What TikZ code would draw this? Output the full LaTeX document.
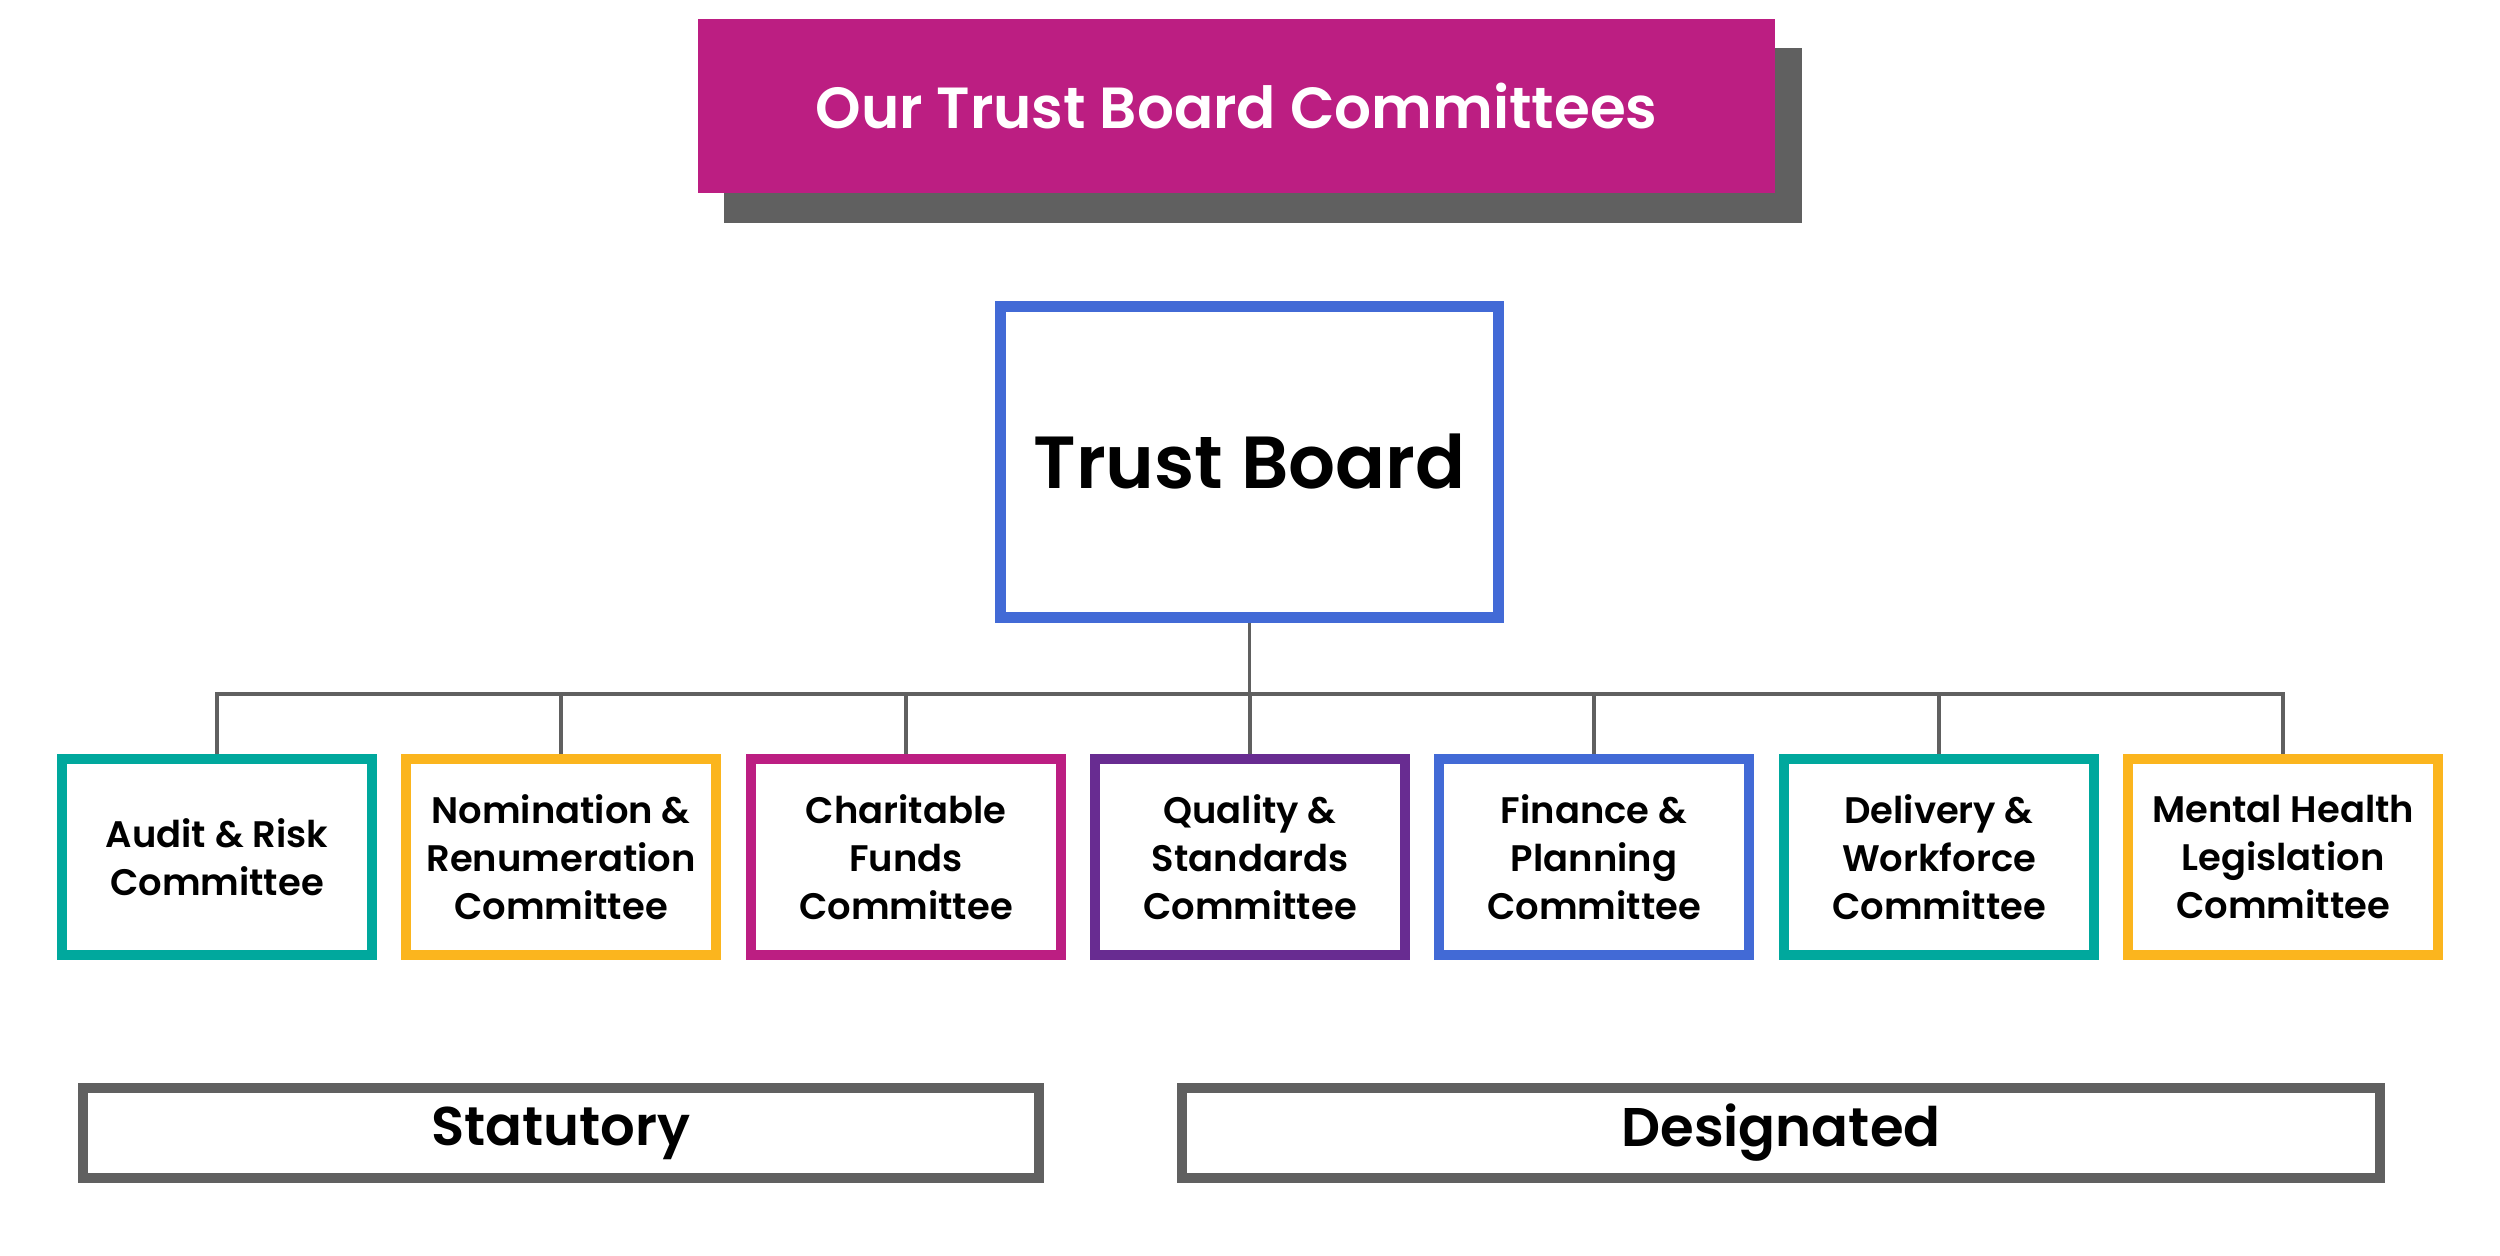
\documentclass[tikz,border=0pt]{standalone}
\usepackage{fontspec}
\setmainfont{Poppins}[BoldFont={Poppins SemiBold}]
\usepackage{tikz}
\usetikzlibrary{positioning}
\definecolor{trustmagenta}{RGB}{188,30,130}
\definecolor{trustblue}{RGB}{66,106,214}
\definecolor{trustteal}{RGB}{0,168,157}
\definecolor{trustamber}{RGB}{251,181,30}
\definecolor{trustpurple}{RGB}{104,44,145}
\definecolor{lineGray}{RGB}{96,96,96}

\tikzset{
  committee/.style={draw=#1, line width=2.85pt, fill=white, minimum width=3.10cm, minimum height=1.96cm,
    align=center, inner sep=0pt, font=\bfseries\fontsize{10.5}{13.7}\selectfont},
  grouplabel/.style={draw=lineGray, line width=2.85pt, fill=white, minimum height=0.90cm, inner sep=0pt,
    font=\bfseries\fontsize{15.5}{18}\selectfont},
  link/.style={draw=lineGray, line width=1pt}
}

\begin{document}
\begin{tikzpicture}
            \useasboundingbox (0,0) rectangle (25,12.55);
            % title banner with its shadow
            \node[fill=lineGray, minimum width=10.78cm, minimum height=1.75cm] (shadow) at (12.63,11.195) {};
            \node[fill=trustmagenta, minimum width=10.77cm, minimum height=1.74cm, text=white,
                  font=\bfseries\fontsize{16.5}{20}\selectfont] (title) at (12.365,11.49) {Our Trust Board Committees};
            % board
            \node[draw=trustblue, line width=3.1pt, fill=white, minimum width=4.98cm, minimum height=3.11cm,
                  inner sep=0pt, font=\bfseries\fontsize{21}{25}\selectfont] (tb) at (12.495,7.93) {Trust Board};
            \coordinate (bus) at (12.495,5.61);
            % committees
            \node[committee=trustteal] (audit) at (2.17,3.98) {Audit \& Risk\\Committee};
            \node[committee=trustamber] (nomination) at (5.61,3.98) {Nomination \&\\Renumeration\\Committee};
            \node[committee=trustmagenta] (charity) at (9.06,3.98) {Charitable\\Funds\\Committee};
            \node[committee=trustpurple] (quality) at (12.50,3.98) {Quality \&\\Standards\\Committee};
            \node[committee=trustblue] (finance) at (15.94,3.98) {Finance \&\\Planning\\Committee};
            \node[committee=trustteal] (delivery) at (19.39,3.98) {Delivery \&\\Workforce\\Committee};
            \node[committee=trustamber] (mental) at (22.83,3.98) {Mental Health\\Legislation\\Committee};
            \draw[link] (tb.south) -- (bus);
            \foreach \c in {audit, nomination, charity, quality, finance, delivery, mental}
                \draw[link] (\c.north) |- (bus);
            % groups
            \node[grouplabel, minimum width=9.56cm] (statutory) at (5.61,1.22) {Statutory};
            \node[grouplabel, minimum width=11.98cm] (designated) at (17.81,1.22) {Designated};
        \end{tikzpicture}
\end{document}
